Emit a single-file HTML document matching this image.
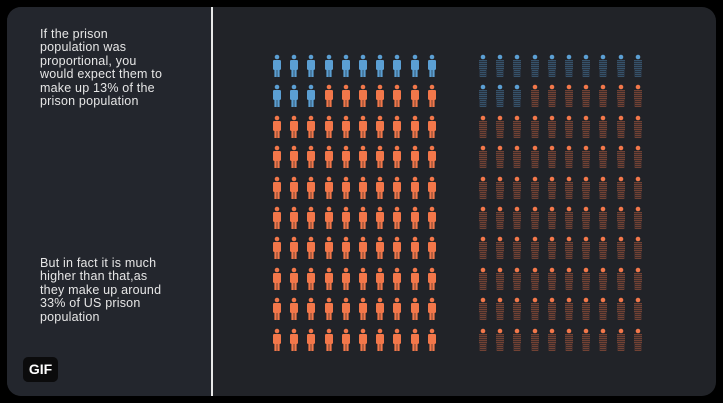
<!DOCTYPE html>
<html><head><meta charset="utf-8"><style>
body{margin:0;background:#000;width:723px;height:403px;overflow:hidden;font-family:"Liberation Sans",sans-serif}
#panel{position:absolute;left:7px;top:7px;width:709px;height:389px;background:#212328;border-radius:14px;overflow:hidden}
#leftp{position:absolute;left:0;top:0;width:204px;height:389px;background:#23262d}
#divider{position:absolute;left:204px;top:0;width:2px;height:389px;background:#e8e8e8}
.txt{position:absolute;left:33px;width:170px;color:#e6e6e6;font-size:12.5px;line-height:13.4px;white-space:nowrap;letter-spacing:0.2px}
#gif{position:absolute;left:16px;top:350px;width:35px;height:25px;background:#0b0b0c;border-radius:5px;color:#fff;font-weight:bold;font-size:14px;line-height:25px;text-align:center}
svg{position:absolute;left:0;top:0}
</style></head><body>
<div id="panel">
<div id="leftp"></div>
<div id="divider"></div>
<div class="txt" style="top:21px">If the prison<br>population was<br>proportional, you<br>would expect them to<br>make up 13% of the<br>prison population</div>
<div class="txt" style="top:250px">But in fact it is much<br>higher than that,as<br>they make up around<br>33% of US prison<br>population</div>
<div id="gif">GIF</div>
</div>
<svg id="chart" width="723" height="403"></svg>
<script>
const totalIcons = 100;
const expectedBlue = [13];
const actualBlue = [13];
const cols = 10;
const NS='http://www.w3.org/2000/svg';
const svg=document.getElementById('chart');
function colX(i,x0){return x0+i*17.2;}
function rowY(r){return 66+r*30.4;}
function mk(t,a){const e=document.createElementNS(NS,t);for(const k in a)e.setAttribute(k,a[k]);return e;}
function person(g,cx,cy,col,striped){
  cx=Math.round(cx);cy=Math.round(cy);
  g.appendChild(mk('circle',{cx:cx,cy:cy-9,r:2.3,fill:col}));
  if(!striped){
    g.appendChild(mk('rect',{x:cx-4,y:cy-6,width:8,height:10,rx:1.2,fill:col}));
    g.appendChild(mk('rect',{x:cx-2.6,y:cy+3,width:2.3,height:8,fill:col}));
    g.appendChild(mk('rect',{x:cx+0.3,y:cy+3,width:2.3,height:8,fill:col}));
  } else {
    g.appendChild(mk('rect',{x:cx-4,y:cy-6,width:8,height:17,fill:col,opacity:0.12,'shape-rendering':'crispEdges'}));
    for(let y=cy-6;y<cy+11;y+=2){
      const w = y<cy+4?8:6;
      g.appendChild(mk('rect',{x:cx-w/2,y:y,width:w,height:1,fill:col,opacity:0.3,'shape-rendering':'crispEdges'}));
    }
  }
}
function grid(x0,blue,striped,name){
  const g=mk('g',{});
  
  
  svg.appendChild(g);
  for(let i=0;i<totalIcons;i++){
    const c=i%cols,r=Math.floor(i/cols);
    const isBlue=i<blue;
    const col=isBlue?'#5b9fd3':'#f2774a';
    const p=mk('g',{});
    
    
    g.appendChild(p);
    person(p,colX(c,x0),rowY(r),col,striped);
  }
}
grid(277,expectedBlue[0],false,'expected-grid');
grid(483,actualBlue[0],true,'actual-grid');
</script>
</body></html>
